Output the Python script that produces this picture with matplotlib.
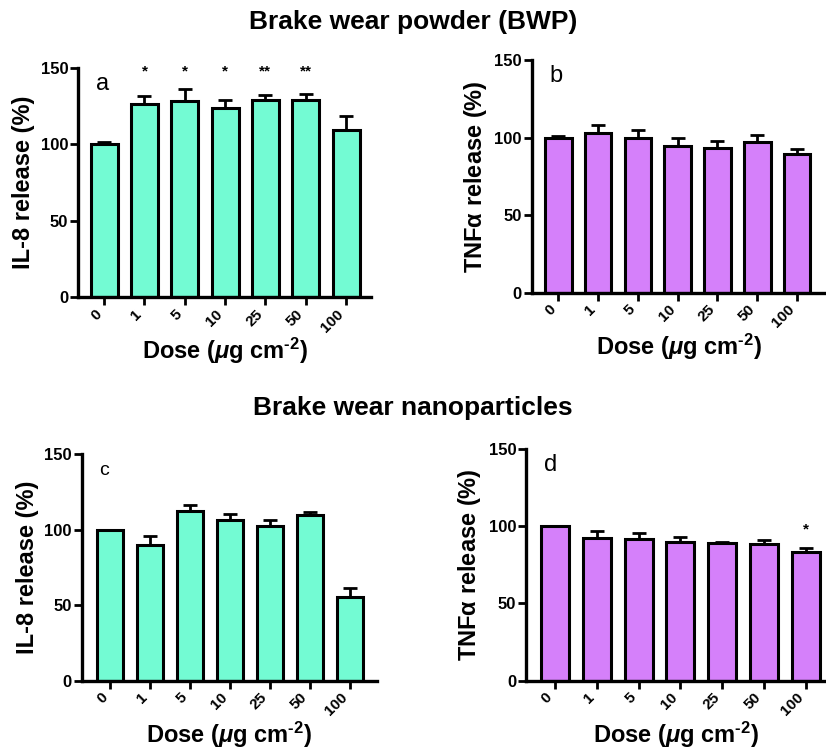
import matplotlib
matplotlib.use("Agg")
import matplotlib.pyplot as plt
import numpy as np

plt.rcParams['font.family'] = ['Liberation Sans', 'DejaVu Sans']
plt.rcParams['mathtext.fontset'] = 'custom'
plt.rcParams['mathtext.it'] = 'Liberation Sans:italic:bold'
plt.rcParams['mathtext.rm'] = 'Liberation Sans:bold'
plt.rcParams['mathtext.bf'] = 'Liberation Sans:bold'

doses = ["0", "1", "5", "10", "25", "50", "100"]

il8_bwp = [100, 126.6, 128.1, 123.7, 129.2, 129.0, 109.3]
il8_bwp_err = [1.8, 4.8, 8.1, 5.1, 2.8, 4.1, 9.4]
il8_bwp_sig = ["", "*", "*", "*", "**", "**", ""]

tnf_bwp = [100, 103.0, 100.0, 94.4, 93.5, 97.0, 89.2]
tnf_bwp_err = [1.2, 5.0, 4.7, 5.1, 4.1, 4.7, 3.4]

il8_np = [100, 89.9, 112.4, 106.7, 102.5, 110.0, 55.7]
il8_np_err = [0.0, 6.2, 4.0, 4.0, 4.0, 1.6, 5.5]

tnf_np = [100, 92.6, 91.5, 89.8, 88.9, 88.3, 83.1]
tnf_np_err = [0.0, 4.5, 4.3, 3.4, 0.9, 2.8, 3.0]
tnf_np_sig = ["", "", "", "", "", "", "*"]

teal = "#73FBD3"
purple = "#D580FA"

W, H = 826, 751
fig = plt.figure(figsize=(W / 100, H / 100), dpi=100)

def frac(left, right, top, bottom):
    return [left / W, 1 - bottom / H, (right - left) / W, (bottom - top) / H]

XLABEL = r"Dose ($\mu$g cm$^{\text{-2}}$)"

def panel(rect, vals, errs, color, ylabel, letter, letter_size, xlim, sig=None, sig_y=None):
    ax = fig.add_axes(rect)
    x = np.arange(len(doses))
    ax.errorbar(x, vals, yerr=[np.zeros(len(errs)), errs], fmt='none',
                ecolor='black', elinewidth=2.0, capsize=5.0, capthick=2.0, zorder=1)
    ax.bar(x, vals, width=0.67, color=color, edgecolor='black', linewidth=2.2, zorder=2)
    ax.set_ylim(0, 150)
    ax.set_xlim(*xlim)
    ax.set_yticks([0, 50, 100, 150])
    ax.set_xticks(x)
    ax.set_xticklabels(doses, rotation=45, ha='right', fontsize=11, fontweight='bold')
    for lab in ax.get_yticklabels():
        lab.set_fontweight('bold')
        lab.set_fontsize(12)
    ax.tick_params(axis='both', width=2.0, length=6, pad=1)
    for s in ['top', 'right']:
        ax.spines[s].set_visible(False)
    for s in ['left', 'bottom']:
        ax.spines[s].set_linewidth(2.4)
    ax.set_ylabel(ylabel, fontsize=17, fontweight='bold', labelpad=4)
    ax.set_xlabel(XLABEL, fontsize=17, fontweight='bold', labelpad=1)
    ax.text(0.06, 0.93, letter, transform=ax.transAxes, fontsize=letter_size,
            ha='left', va='center')
    if sig is not None:
        for xi, s in zip(x, sig):
            if s:
                ax.text(xi, sig_y, s, ha='center', va='center', fontsize=11,
                        fontweight='bold', clip_on=False)
    return ax

panel(frac(78, 371, 68, 297), il8_bwp, il8_bwp_err, teal, "IL-8 release (%)", "a", 17,
      (-0.65, 6.62), il8_bwp_sig, 148)
panel(frac(531.7, 826, 60, 292.7), tnf_bwp, tnf_bwp_err, purple, r"TNF$\mathrm{\alpha}$ release (%)", "b", 17,
      (-0.67, 6.73))
panel(frac(81.7, 376.7, 454.3, 680.7), il8_np, il8_np_err, teal, "IL-8 release (%)", "c", 14,
      (-0.71, 6.67))
panel(frac(526, 826, 449, 680.7), tnf_np, tnf_np_err, purple, r"TNF$\mathrm{\alpha}$ release (%)", "d", 17,
      (-0.69, 6.48), tnf_np_sig, 98)

fig.text(0.5, 1 - 22 / H, "Brake wear powder (BWP)", ha='center', va='center',
         fontsize=19, fontweight='bold')
fig.text(0.5, 1 - 408 / H, "Brake wear nanoparticles", ha='center', va='center',
         fontsize=19, fontweight='bold')

fig.savefig("out.png", dpi=100)
